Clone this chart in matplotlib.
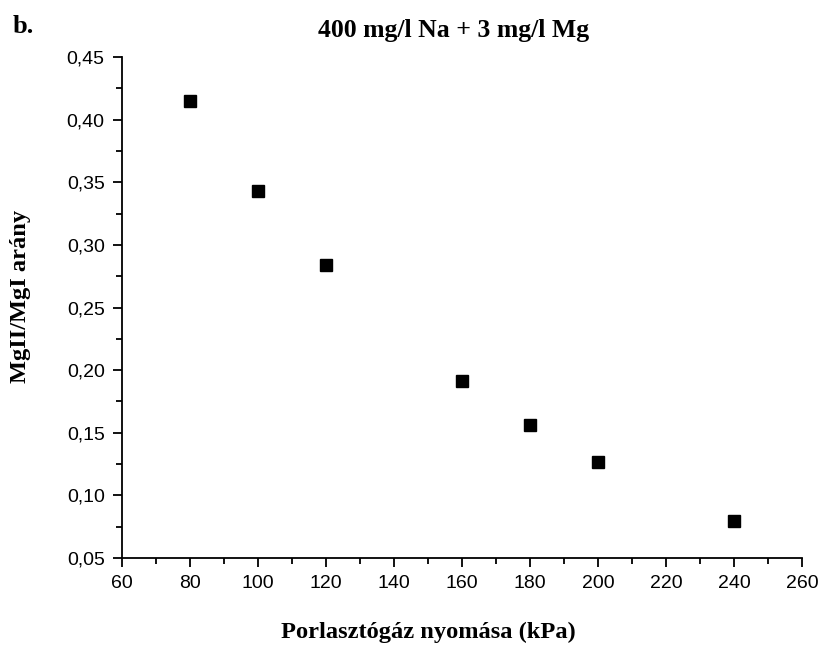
import matplotlib
matplotlib.use("Agg")
import matplotlib.pyplot as plt
from matplotlib.ticker import MultipleLocator, FuncFormatter

pressure = [80, 100, 120, 160, 180, 200, 240]
ratio = [0.415, 0.343, 0.284, 0.191, 0.156, 0.127, 0.0795]

fig = plt.figure(figsize=(8.21, 6.45), dpi=100)
ax = fig.add_axes([0.1486, 0.1349, 0.8283, 0.7767])
ax.plot(pressure, ratio, linestyle="none", marker="s", ms=8, color="black")

ax.set_xlim(60, 260)
ax.set_ylim(0.05, 0.45)
ax.xaxis.set_major_locator(MultipleLocator(20))
ax.xaxis.set_minor_locator(MultipleLocator(10))
ax.yaxis.set_major_locator(MultipleLocator(0.05))
ax.yaxis.set_minor_locator(MultipleLocator(0.025))
ax.yaxis.set_major_formatter(FuncFormatter(lambda v, p: f"{v:.2f}".replace(".", ",")))

for s in ["top", "right"]:
    ax.spines[s].set_visible(False)
for s in ["left", "bottom"]:
    ax.spines[s].set_linewidth(1.3)
ax.tick_params(which="major", direction="out", length=6.5, width=1.3, labelsize=14)
ax.tick_params(axis="x", which="major", pad=6)
ax.tick_params(axis="y", which="major", pad=6)
ax.tick_params(which="minor", direction="out", length=4, width=1.3)
for lab in ax.get_xticklabels() + ax.get_yticklabels():
    lab.set_fontfamily("Liberation Sans")

serif = dict(fontfamily="Liberation Serif", fontweight="bold")
fig.text(454 / 821, 1 - 37 / 645, "400 mg/l Na + 3 mg/l Mg", ha="center", va="baseline", fontsize=18.5, **serif)
fig.text(13 / 821, 1 - 33 / 645, "b.", ha="left", va="baseline", fontsize=19, **serif)
fig.text(428 / 821, 1 - 638 / 645, "Porlasztógáz nyomása (kPa)", ha="center", va="baseline", fontsize=17.6, **serif)
fig.text(20.5 / 821, 1 - 296 / 645, "MgII/MgI arány", ha="center", va="center", rotation=90, fontsize=17.6, **serif)

fig.savefig("out.png", dpi=100)
